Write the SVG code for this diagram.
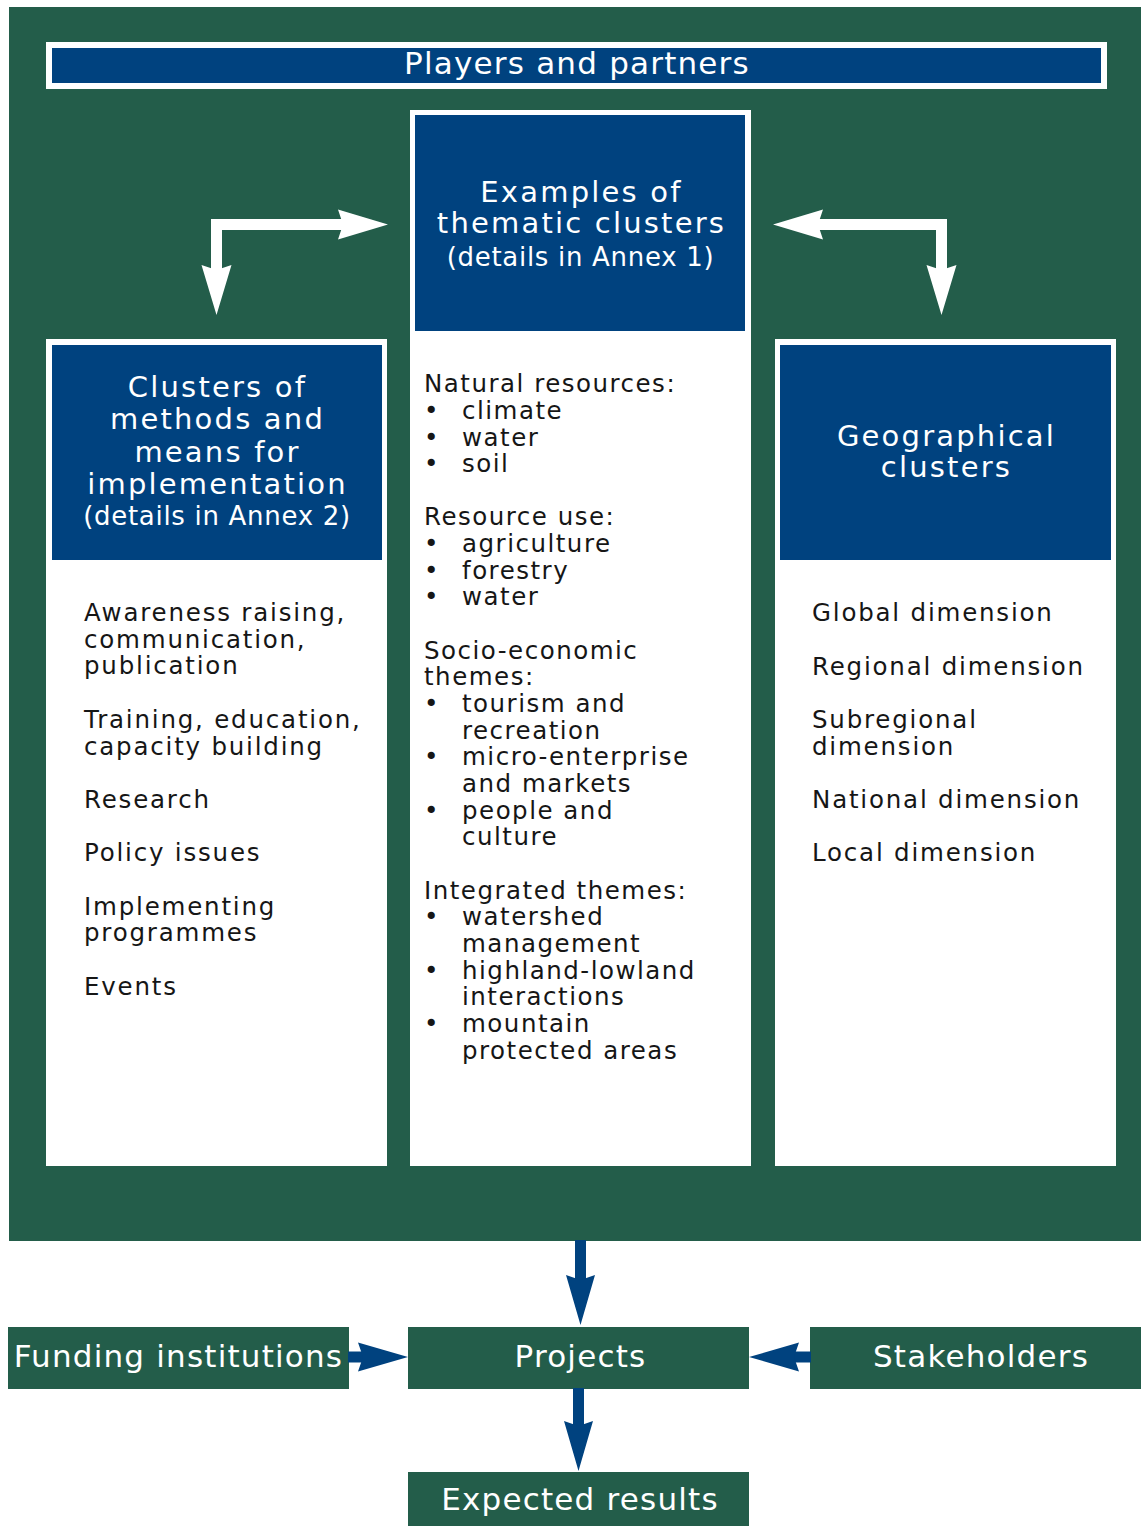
<svg xmlns="http://www.w3.org/2000/svg" width="1141" height="1526" viewBox="0 0 1141 1526">
  <style>
    text { font-family: "DejaVu Sans", Verdana, sans-serif; }
    .green { fill: #235D4A; }
    .blue { fill: #00427F; }
    .white { fill: #ffffff; }
    .big { font-size: 31px; letter-spacing: 1.2px; fill: #ffffff; text-anchor: middle; }
    .ttl { font-size: 29px; letter-spacing: 2.2px; fill: #ffffff; text-anchor: middle; }
    .sub { font-size: 26px; letter-spacing: 0.7px; fill: #ffffff; text-anchor: middle; }
    .body { font-size: 24.5px; letter-spacing: 1.5px; fill: #161616; }
    .side { letter-spacing: 1.8px; }
    .wline { fill: none; stroke: #ffffff; stroke-width: 11; stroke-linejoin: miter; }
    .bline { fill: none; stroke: #00427F; stroke-width: 11; }
  </style>
  <defs>
    <!-- swept-back arrowheads; origin at the notch, tip 45 units ahead -->
    <marker id="headW" markerUnits="userSpaceOnUse" orient="auto-start-reverse" refX="0" refY="0" markerWidth="60" markerHeight="40" viewBox="-10 -20 60 40" overflow="visible">
      <path d="M45,0 L-5,-15 L0,0 L-5,15 Z" fill="#ffffff"/>
    </marker>
    <marker id="headB" markerUnits="userSpaceOnUse" orient="auto-start-reverse" refX="0" refY="0" markerWidth="60" markerHeight="40" viewBox="-10 -20 60 40" overflow="visible">
      <path d="M45,0 L-5,-14.5 L0,0 L-5,14.5 Z" fill="#00427F"/>
    </marker>
  </defs>

  <rect width="1141" height="1526" fill="#ffffff"/>

  <!-- framework background -->
  <rect id="framework" class="green" x="9" y="7" width="1142" height="1234"/>

  <!-- players and partners banner -->
  <g id="players">
    <rect class="white" x="46" y="42" width="1061" height="47"/>
    <rect class="blue" x="52" y="48" width="1049" height="35"/>
    <text class="big" x="577" y="74">Players and partners</text>
  </g>

  <!-- thematic clusters column -->
  <g id="thematic">
    <rect class="white" x="410" y="110" width="341" height="1056"/>
    <rect class="blue" x="415" y="115" width="330" height="216"/>
    <text class="ttl" x="581.5" y="202">Examples of</text>
    <text class="ttl" x="581.5" y="233">thematic clusters</text>
    <text class="sub" x="580.5" y="266">(details in Annex 1)</text>
    <g class="body">
      <text x="424" y="392">Natural resources:</text>
      <text x="424" y="419">•</text><text x="462" y="419">climate</text>
      <text x="424" y="446">•</text><text x="462" y="446">water</text>
      <text x="424" y="472">•</text><text x="462" y="472">soil</text>
      <text x="424" y="525">Resource use:</text>
      <text x="424" y="552">•</text><text x="462" y="552">agriculture</text>
      <text x="424" y="579">•</text><text x="462" y="579">forestry</text>
      <text x="424" y="605">•</text><text x="462" y="605">water</text>
      <text x="424" y="659">Socio-economic</text>
      <text x="424" y="685">themes:</text>
      <text x="424" y="712">•</text><text x="462" y="712">tourism and</text>
      <text x="462" y="739">recreation</text>
      <text x="424" y="765">•</text><text x="462" y="765">micro-enterprise</text>
      <text x="462" y="792">and markets</text>
      <text x="424" y="819">•</text><text x="462" y="819">people and</text>
      <text x="462" y="845">culture</text>
      <text x="424" y="899">Integrated themes:</text>
      <text x="424" y="925">•</text><text x="462" y="925">watershed</text>
      <text x="462" y="952">management</text>
      <text x="424" y="979">•</text><text x="462" y="979">highland-lowland</text>
      <text x="462" y="1005">interactions</text>
      <text x="424" y="1032">•</text><text x="462" y="1032">mountain</text>
      <text x="462" y="1059">protected areas</text>
    </g>
  </g>

  <!-- methods and means column -->
  <g id="methods">
    <rect class="white" x="46" y="339" width="341" height="827"/>
    <rect class="blue" x="52" y="345" width="330" height="215"/>
    <text class="ttl" x="217.5" y="397">Clusters of</text>
    <text class="ttl" x="217.5" y="429">methods and</text>
    <text class="ttl" x="217.5" y="461.5">means for</text>
    <text class="ttl" x="217.5" y="493.5">implementation</text>
    <text class="sub" x="217" y="525">(details in Annex 2)</text>
    <g class="body side">
      <text x="84" y="621">Awareness raising,</text>
      <text x="84" y="648">communication,</text>
      <text x="84" y="674">publication</text>
      <text x="84" y="728">Training, education,</text>
      <text x="84" y="755">capacity building</text>
      <text x="84" y="808">Research</text>
      <text x="84" y="861">Policy issues</text>
      <text x="84" y="915">Implementing</text>
      <text x="84" y="941">programmes</text>
      <text x="84" y="995">Events</text>
    </g>
  </g>

  <!-- geographical clusters column -->
  <g id="geographical">
    <rect class="white" x="775" y="339" width="341" height="827"/>
    <rect class="blue" x="780" y="345" width="331" height="215"/>
    <text class="ttl" x="946.5" y="446">Geographical</text>
    <text class="ttl" x="946.5" y="477">clusters</text>
    <g class="body side">
      <text x="812" y="621">Global dimension</text>
      <text x="812" y="675">Regional dimension</text>
      <text x="812" y="728">Subregional</text>
      <text x="812" y="755">dimension</text>
      <text x="812" y="808">National dimension</text>
      <text x="812" y="861">Local dimension</text>
    </g>
  </g>

  <!-- project flow -->
  <g id="funding">
    <rect class="green" x="8" y="1327" width="341" height="62"/>
    <text class="big" x="178.5" y="1367">Funding institutions</text>
  </g>
  <g id="projects">
    <rect class="green" x="408" y="1327" width="341" height="62"/>
    <text class="big" x="580.5" y="1367">Projects</text>
  </g>
  <g id="stakeholders">
    <rect class="green" x="810" y="1327" width="341" height="62"/>
    <text class="big" x="981" y="1367">Stakeholders</text>
  </g>
  <g id="results">
    <rect class="green" x="408" y="1472" width="341" height="62"/>
    <text class="big" x="580" y="1510">Expected results</text>
  </g>

  <!-- connectors -->
  <g id="connectors">
    <path class="wline" d="M343,224.5 L216.5,224.5 L216.5,270" marker-start="url(#headW)" marker-end="url(#headW)"/>
    <path class="wline" d="M818,224.5 L941.5,224.5 L941.5,270" marker-start="url(#headW)" marker-end="url(#headW)"/>
    <path class="bline" d="M580.5,1240 L580.5,1280" marker-end="url(#headB)"/>
    <path class="bline" d="M348,1357 L363,1357" marker-end="url(#headB)"/>
    <path class="bline" d="M811,1357 L794,1357" marker-end="url(#headB)"/>
    <path class="bline" d="M578.5,1388 L578.5,1426" marker-end="url(#headB)"/>
  </g>
</svg>
